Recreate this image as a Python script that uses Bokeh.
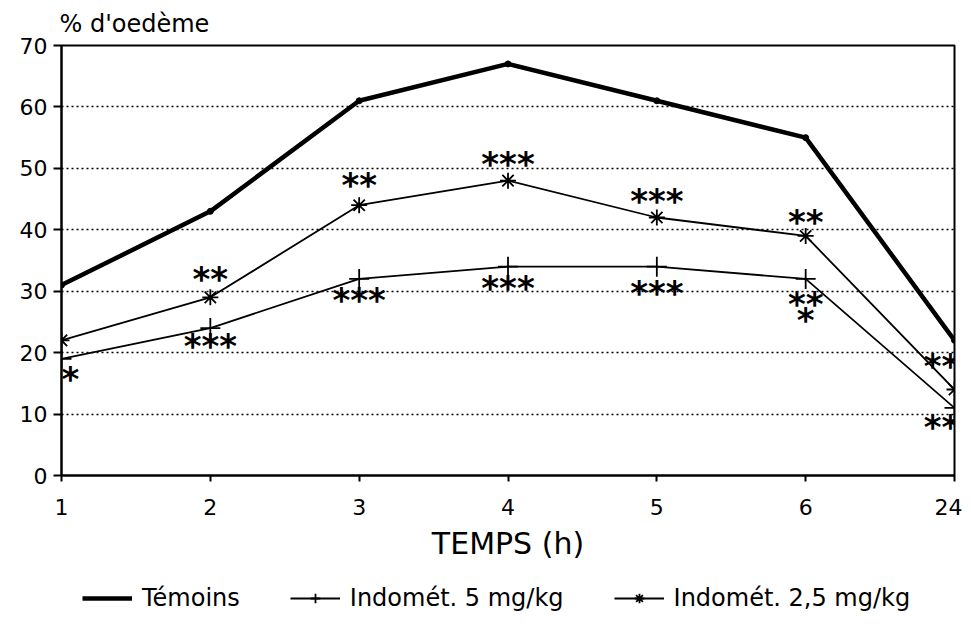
from bokeh.plotting import figure
from bokeh.layouts import column
from bokeh.models import ColumnDataSource, Legend, LegendItem, FixedTicker, Range1d
from bokeh.core.properties import value
from bokeh.embed import file_html
from bokeh.resources import INLINE

# ---- data ----
categories = ["1", "2", "3", "4", "5", "6", "24"]
temoins = [31, 43, 61, 67, 61, 55, 22]
indo_5 = [19, 24, 32, 34, 34, 32, 11]
indo_25 = [22, 29, 44, 48, 42, 39, 14]
y_ticks = [0, 10, 20, 30, 40, 50, 60, 70]
series_names = ["Témoins", "Indomét. 5 mg/kg", "Indomét. 2,5 mg/kg"]

star_labels = ["*", "**", "***", "**", "***", "***", "***", "***", "***", "**", "**", "*", "**", "**"]
star_cats = ["1", "2", "2", "3", "3", "4", "4", "5", "5", "6", "6", "6", "24", "24"]
star_y = [16.3, 32.6, 21.7, 48.0, 29.3, 51.3, 31.1, 45.4, 30.4, 42.0, 28.6, 26.0, 18.4, 8.5]

FONT = "DejaVu Sans"
xi = list(range(len(categories)))
series = [temoins, indo_5, indo_25]

p = figure(width=962, height=570, output_backend="svg", toolbar_location=None,
           x_range=Range1d(0, len(categories) - 1), y_range=Range1d(0, 70),
           min_border_left=61, min_border_right=8, min_border_top=45, min_border_bottom=95)

p.background_fill_color = "white"
p.border_fill_color = "white"
p.outline_line_color = "black"
p.outline_line_width = 2
p.outline_line_alpha = 1

# title used as y-axis caption
p.title.text = "% d'oedème"
p.title.text_font = FONT
p.title.text_font_size = "24px"
p.title.text_font_style = "normal"
p.title.text_color = "black"
p.title.align = "left"
p.title.offset = -2
p.title.standoff = 15

# grid
p.xgrid.visible = False
p.ygrid.grid_line_color = "black"
p.ygrid.grid_line_dash = "2 3"
p.ygrid.grid_line_width = 1.5
p.ygrid.ticker = FixedTicker(ticks=y_ticks)

# axes
for ax in (p.xaxis, p.yaxis):
    ax.axis_line_color = "black"
    ax.axis_line_width = 2
    ax.major_tick_line_color = "black"
    ax.major_tick_line_width = 2
    ax.minor_tick_line_color = None
    ax.major_tick_in = 0
    ax.major_label_text_font = FONT
    ax.major_label_text_font_size = "22px"
    ax.major_label_text_color = "black"

p.yaxis.ticker = FixedTicker(ticks=y_ticks)
p.yaxis.major_tick_out = 8
p.yaxis.major_label_standoff = 6

p.xaxis.ticker = FixedTicker(ticks=xi)
p.xaxis.major_label_overrides = {i: c for i, c in enumerate(categories)}
p.xaxis.major_tick_out = 6
p.xaxis.major_label_standoff = 17
p.xaxis.axis_label = "TEMPS (h)"
p.xaxis.axis_label_text_font = FONT
p.xaxis.axis_label_text_font_size = "30px"
p.xaxis.axis_label_text_font_style = "normal"
p.xaxis.axis_label_text_color = "black"
p.xaxis.axis_label_standoff = 8

# series styles
STY = [dict(line_width=4.5), dict(line_width=1.8), dict(line_width=1.8)]
MARK = [dict(marker="circle", size=6, line_width=1, fill_color="black"),
        dict(marker="cross", size=20, line_width=1.8),
        dict(marker="asterisk", size=16, line_width=1.8)]

for ys, st, mk in zip(series, STY, MARK):
    p.line(xi, ys, line_color="black", line_join="round", **st)
    p.scatter(xi, ys, line_color="black", **mk)

# significance stars
last = len(categories) - 1
sx = [categories.index(c) for c in star_cats]
sxo = [9 if i == 0 else (-13 if i == last else 0) for i in sx]
src = ColumnDataSource(dict(x=sx, y=star_y, text=star_labels, xo=sxo))
p.text(x="x", y="y", text="text", source=src, x_offset="xo", y_offset=4,
       text_font=value(FONT), text_font_style="bold", text_font_size="34px",
       text_align="center", text_baseline="middle", text_color="black")

# ---- legend strip below the chart (series drawn out of view, legend only) ----
q = figure(width=962, height=56, output_backend="svg", toolbar_location=None,
           x_range=Range1d(0, len(categories) - 1), y_range=Range1d(0, 1),
           min_border=0, outline_line_color=None)
q.axis.visible = False
q.grid.visible = False
items = []
for name, ys, st, mk in zip(series_names, series, STY, MARK):
    rs = [q.line(xi, ys, line_color="black", **st)]
    if mk["marker"] != "circle":
        rs.append(q.scatter(xi, ys, line_color="black", **mk))
    items.append(LegendItem(label=name, renderers=rs))

legend = Legend(items=items, orientation="horizontal", location=(21, 14),
                glyph_width=50, glyph_height=24, label_standoff=10, spacing=50,
                label_text_font=FONT, label_text_font_size="24px",
                label_text_color="black", border_line_color=None,
                background_fill_alpha=0, padding=0, margin=0)
q.add_layout(legend, "center")

layout = column(p, q, spacing=0)
open("out.html", "w").write(file_html(layout, INLINE))
